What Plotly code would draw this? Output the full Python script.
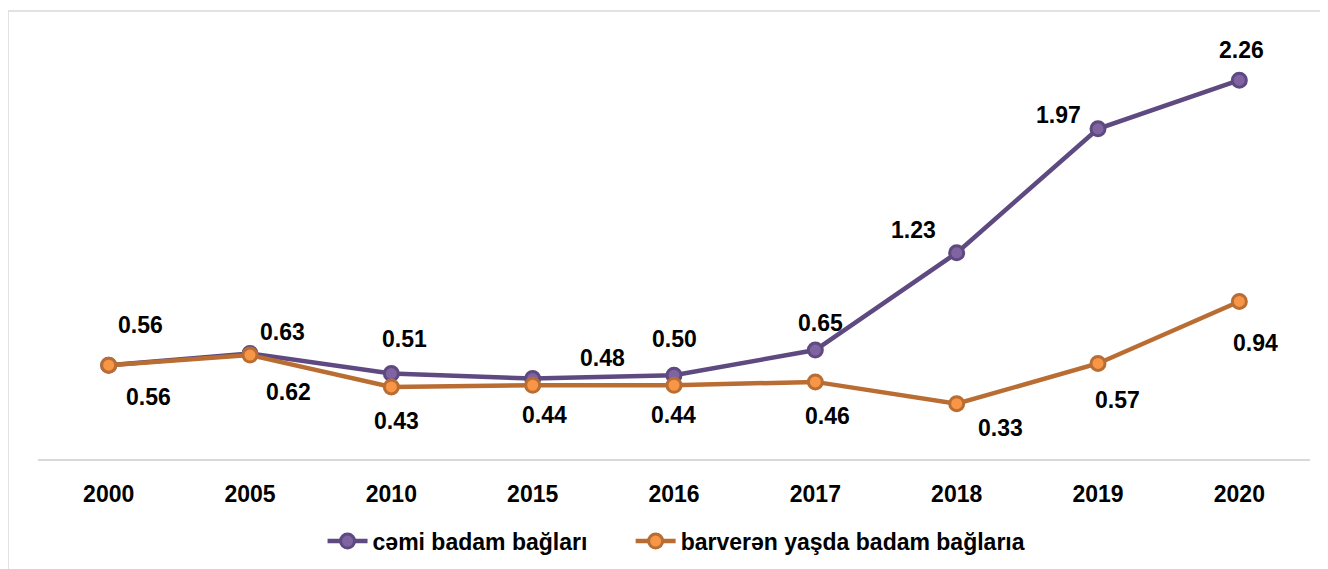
import plotly.graph_objects as go

years = ['2000', '2005', '2010', '2015', '2016', '2017', '2018', '2019', '2020']
total = [0.56, 0.63, 0.51, 0.48, 0.50, 0.65, 1.23, 1.97, 2.26]
bearing = [0.56, 0.62, 0.43, 0.44, 0.44, 0.46, 0.33, 0.57, 0.94]

name_total = 'cəmi badam bağları'
name_bearing = 'barverən yaşda badam bağlarıa'

# label offsets (px)
total_shift = [(32, 40), (32, 21), (13, 35), (70, 21), (0, 36), (5, 27), (-43, 23), (-40, 14), (2, 30)]
bearing_shift = [(40, -32), (38, -37), (5, -34), (12, -30), (-1, -30), (12, -34), (44, -24), (19, -37), (16, -42)]

font = 'Liberation Sans, Arial, sans-serif'
bold = dict(family=font, size=23, color='black', weight='bold')

fig = go.Figure()
fig.add_trace(go.Scatter(
    x=years, y=total, name=name_total + '\u00a0' * 6, mode='lines+markers',
    line=dict(color='#5E4A80', width=4.5),
    marker=dict(size=14, color='#8064A2', line=dict(color='#5E4A80', width=3)),
))
fig.add_trace(go.Scatter(
    x=years, y=bearing, name=name_bearing, mode='lines+markers',
    line=dict(color='#B96D32', width=4.5),
    marker=dict(size=14, color='#F79646', line=dict(color='#B96D32', width=3)),
))

# annotations on a category axis take the category index
for i, (v, (dx, dy)) in enumerate(zip(total, total_shift)):
    fig.add_annotation(x=i, y=v, text=f'{v:.2f}', showarrow=False,
                       xshift=dx, yshift=dy, font=bold)
for i, (v, (dx, dy)) in enumerate(zip(bearing, bearing_shift)):
    fig.add_annotation(x=i, y=v, text=f'{v:.2f}', showarrow=False,
                       xshift=dx, yshift=dy, font=bold)

# light frame (only top and left edges visible in the original)
fig.add_shape(type='rect', xref='paper', yref='paper',
              x0=-0.0236, x1=1.2, y0=-0.6, y1=1.069,
              line=dict(color='#D9D9D9', width=1.5), layer='below')

fig.update_layout(
    width=1328, height=569,
    margin=dict(l=30, r=26, t=32, b=118),
    paper_bgcolor='white', plot_bgcolor='white',
    font=bold,
    showlegend=True,
    legend=dict(orientation='h', x=0.502, xanchor='center', y=-0.196, yanchor='middle',
                font=bold, itemwidth=40, tracegroupgap=0),
    xaxis=dict(type='category', range=[-0.5, len(years) - 0.5], showgrid=False,
               showline=True, linecolor='#D9D9D9', linewidth=1.5,
               ticks='outside', ticklen=14, tickcolor='rgba(0,0,0,0)',
               tickfont=bold, fixedrange=True),
    yaxis=dict(range=[0, 2.5], visible=False, showgrid=False, zeroline=False),
)

fig.write_html('out.html')
